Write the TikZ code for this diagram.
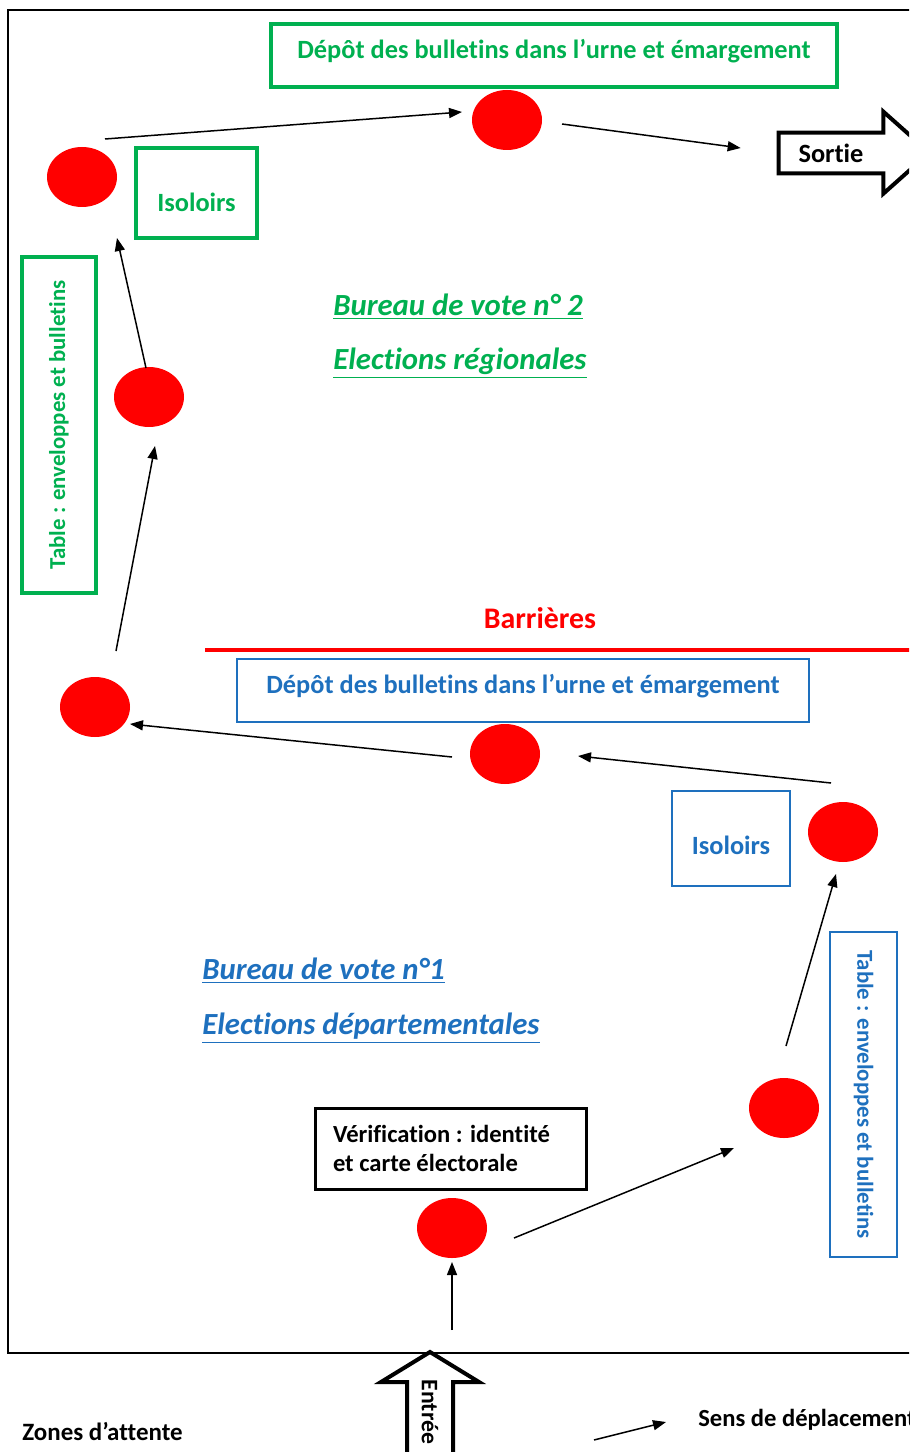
\documentclass[tikz,border=0pt]{standalone}
\usepackage{fontspec}
\setmainfont{Carlito}[Ligatures=NoCommon]
\usetikzlibrary{arrows.meta,calc,shapes.geometric}
\definecolor{votegreen}{RGB}{0,176,80}
\definecolor{voteblue}{RGB}{30,112,190}
\definecolor{votered}{RGB}{255,0,0}
\newlength{\pix}
\setlength{\pix}{0.02cm}
\newcommand{\boxfont}{\bfseries\fontsize{15}{18}\selectfont}
\newcommand{\tablefont}{\bfseries\fontsize{13}{16}\selectfont}
\newcommand{\bureaufont}{\bfseries\itshape\fontsize{17.5}{21}\selectfont}
\newcommand{\nudge}[2]{\raisebox{#1\pix}[\height][\depth]{#2}}

\begin{document}
\begin{tikzpicture}[x=0.02cm,y=-0.02cm,
  voter/.style={ellipse,fill=votered,minimum width=70\pix,minimum height=60\pix,inner sep=0pt,outer sep=0pt},
  flow/.style={-{Triangle[length=0.26cm,width=0.2cm]},line width=1.5\pix},
  greenbox/.style={draw=votegreen,line width=3.5\pix,text=votegreen,inner sep=0pt},
  bluebox/.style={draw=voteblue,line width=2.5\pix,text=voteblue,inner sep=0pt},
  bigarrow/.style={draw,line width=4\pix,line join=miter}]

\clip (0,0) rectangle (909,1452);
\draw[line width=2\pix] (8,10) rectangle (940,1353);

% voters
\node[voter] (e1) at (507,120) {};
\node[voter] (e2) at (82,177) {};
\node[voter] (e3) at (149,397) {};
\node[voter] (e4) at (95,707) {};
\node[voter] (e5) at (505,754) {};
\node[voter] (e6) at (843,832) {};
\node[voter] (e7) at (784,1108) {};
\node[voter] (e8) at (452,1228) {};

% bureau 2
\begin{scope}[font=\boxfont]
\node[greenbox,minimum width=566\pix,minimum height=63\pix] (urne2) at (554,55.5)
  {\nudge{4}{Dépôt des bulletins dans l’urne et émargement}};
\node[greenbox,minimum width=121\pix,minimum height=90\pix] (isol2) at (196.5,193) {\nudge{-9}{Isoloirs}};
\node[bluebox,minimum width=572\pix,minimum height=63\pix] (urne1) at (523,690.5)
  {\nudge{4}{Dépôt des bulletins dans l’urne et émargement}};
\node[bluebox,minimum width=118\pix,minimum height=95\pix] (isol1) at (731,838.5) {\nudge{-7}{Isoloirs}};
\node[minimum width=104\pix,minimum height=40\pix,inner sep=0pt] (sortie) at (831,153) {Sortie};
\end{scope}

\begin{scope}[font=\tablefont]
\node[greenbox,rotate=90,minimum width=336\pix,minimum height=74\pix] (table2) at (59,425)
  {Table : enveloppes et bulletins};
\node[bluebox,rotate=-90,minimum width=325\pix,minimum height=67\pix] (table1) at (863.5,1094.5)
  {Table : enveloppes et bulletins};
\end{scope}

\node[draw,line width=3\pix,minimum width=271\pix,minimum height=81\pix,inner xsep=18\pix,
  text width=235\pix,align=flush left,font=\bfseries\fontsize{14}{16.5}\selectfont] (verif) at (450.5,1148.5)
  {Vérification : identité\\et carte électorale};

\node[anchor=west,text=votegreen,font=\bureaufont,inner sep=0pt] (bv2) at (333,307) {\underline{Bureau de vote n° 2}};
\node[anchor=west,text=votegreen,font=\bureaufont,inner sep=0pt] (el2) at (333,363) {\underline{Elections régionales}};
\node[anchor=west,text=voteblue,font=\bureaufont,inner sep=0pt] (bv1) at (202,971) {\underline{Bureau de vote n°1}};
\node[anchor=west,text=voteblue,font=\bureaufont,inner sep=0pt] (el1) at (202,1028) {\underline{Elections départementales}};

\node[text=votered,font=\bfseries\fontsize{17}{20}\selectfont] (barr) at (540,618) {Barrières};
\draw[votered,line width=4\pix] (205,650) -- (940,650);

% big arrows
\draw[bigarrow] (sortie.north west) -- (sortie.north east) -- ++(0,-21) -- ++(46,41)
  -- ++(-46,41) -- (sortie.south east) -- (sortie.south west) -- cycle;
\draw[bigarrow] (407,1470) -- (407,1382) -- (381,1382) -- (430,1352) -- (479,1382)
  -- (453,1382) -- (453,1470);
\node[rotate=-90,font=\bfseries\fontsize{13.5}{16}\selectfont] (entree) at (430,1412) {Entrée};

% path of the voter
\coordinate (door) at (452,1330);
\draw[flow] (door) -- ($(e8)+(0,34)$);
\draw[flow] ($(e8)+(62,10)$) -- ($(e7)+(-50,40)$);
\draw[flow] ($(e7)+(2,-62)$) -- ($(e6)+(-7,42)$);
\draw[flow] ($(e6)+(-12,-49)$) -- ($(e5)+(73,2)$);
\draw[flow] ($(e5)+(-53,3)$) -- ($(e4)+(35,17)$);
\draw[flow] ($(e4)+(21,-56)$) -- ($(e3)+(6,49)$);
\draw[flow] ($(e3)+(-3,-29)$) -- ($(e2)+(35,61)$);
\draw[flow] ($(e2)+(23,-38)$) -- ($(e1)+(-45,-8)$);
\draw[flow] ($(e1)+(55,4)$) -- ($(sortie.west)+(-38,-5)$);

% legend
\node[anchor=west,inner sep=0pt,font=\bfseries\fontsize{14.2}{17}\selectfont] (zones) at (22,1431) {Zones d’attente};
\node[anchor=west,inner sep=0pt,font=\bfseries\fontsize{14}{16}\selectfont] (sens) at (698,1420) {Sens de déplacement};
\coordinate (legtail) at (594,1440);
\draw[flow] (legtail) -- ($(sens.west)+(-32,2)$);
\end{tikzpicture}
\end{document}
